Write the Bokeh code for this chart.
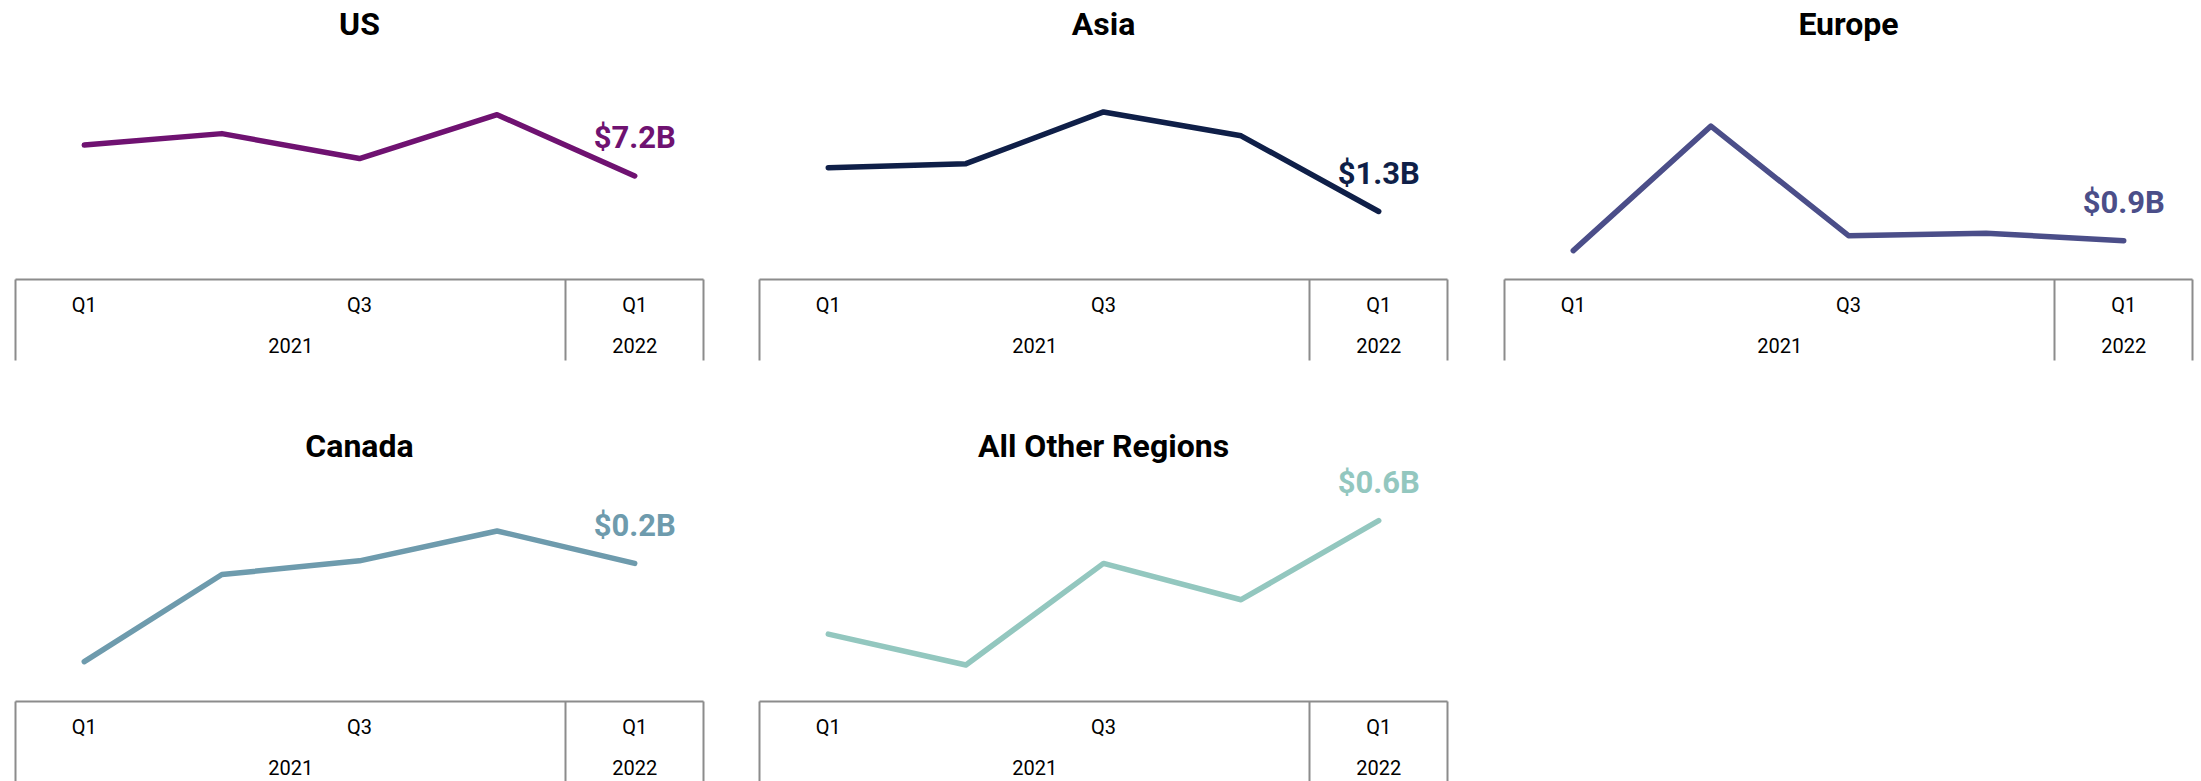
from bokeh.plotting import figure
from bokeh.models import Range1d, LinearAxis, FixedTicker
from bokeh.layouts import row, column
from bokeh.embed import file_html
from bokeh.resources import INLINE
from bokeh.core.properties import value

# ---- data ($ billions) ----
regions = ["US", "Asia", "Europe", "Canada", "All Other Regions"]
quarters = ["Q1 2021", "Q2 2021", "Q3 2021", "Q4 2021", "Q1 2022"]
us = [7.82, 8.05, 7.55, 8.43, 7.20]
asia = [1.52, 1.54, 1.80, 1.68, 1.30]
europe = [0.86, 1.36, 0.92, 0.93, 0.90]
canada = [0.121, 0.191, 0.202, 0.226, 0.200]
other = [0.372, 0.310, 0.514, 0.441, 0.600]
last_labels = ["$7.2B", "$1.3B", "$0.9B", "$0.2B", "$0.6B"]
colors = ["#6f1271", "#0f1f48", "#4b4e89", "#6e9bad", "#93c7bf"]
quarter_ticks = {0: "Q1", 2: "Q3", 4: "Q1"}
year_ticks = {1.5: "2021", 4: "2022"}
separators = [-0.5, 3.5, 4.5]
y_limits = [(5.12, 9.82), (0.9585, 2.1335), (0.744, 1.684), (0.089, 0.277), (0.2366, 0.7066)]

series = [us, asia, europe, canada, other]
xs = list(range(len(quarters)))

FONT = "Roboto"
GRAY = "#8c8c8c"


def make_panel(i, width, height, border_bottom):
    vals = series[i]
    p = figure(width=width, height=height,
               x_range=Range1d(-0.5, 4.5), y_range=Range1d(*y_limits[i]),
               x_axis_type=None, y_axis_type=None,
               output_backend="svg", toolbar_location=None,
               min_border_left=15, min_border_right=width - 15 - 688,
               min_border_top=0, min_border_bottom=border_bottom)
    p.outline_line_color = None
    p.background_fill_color = "white"
    p.border_fill_color = "white"

    p.title.text = regions[i]
    p.title.align = "center"
    p.title.text_font = FONT
    p.title.text_font_style = "bold"
    p.title.text_font_size = "32px"
    p.title.text_color = "black"
    p.title.standoff = 5

    ax1 = LinearAxis(ticker=FixedTicker(ticks=[0, 2, 4], minor_ticks=separators),
                     major_label_overrides=quarter_ticks,
                     axis_line_color=GRAY, axis_line_width=2,
                     major_tick_line_color=None, major_tick_in=0, major_tick_out=0,
                     minor_tick_line_color=GRAY, minor_tick_line_width=2,
                     minor_tick_in=-81, minor_tick_out=0,
                     major_label_standoff=13,
                     major_label_text_font=FONT, major_label_text_font_size="20px",
                     major_label_text_color="black")
    ax2 = LinearAxis(ticker=FixedTicker(ticks=[1.5, 4]),
                     major_label_overrides=year_ticks,
                     axis_line_color=None, major_tick_line_color=None,
                     minor_tick_line_color=None, major_tick_in=0, major_tick_out=0,
                     minor_tick_in=0, minor_tick_out=0,
                     major_label_standoff=18,
                     major_label_text_font=FONT, major_label_text_font_size="20px",
                     major_label_text_color="black")
    p.add_layout(ax1, "below")
    p.add_layout(ax2, "below")

    p.line(xs, vals, line_width=5.5, line_color=colors[i],
           line_cap="round", line_join="round")
    p.text(x=[xs[-1]], y=[vals[-1]], text=[last_labels[i]],
           text_align="center", text_baseline="middle", y_offset=-38,
           text_font=value(FONT), text_font_style="bold",
           text_font_size="31px", text_color=colors[i])
    return p


p1 = make_panel(0, 744, 422, 143)
p2 = make_panel(1, 745, 422, 143)
p3 = make_panel(2, 708, 422, 143)
p4 = make_panel(3, 744, 359, 80)
p5 = make_panel(4, 745, 359, 80)

layout = column(row(p1, p2, p3), row(p4, p5))

open("out.html", "w").write(file_html(layout, INLINE))
